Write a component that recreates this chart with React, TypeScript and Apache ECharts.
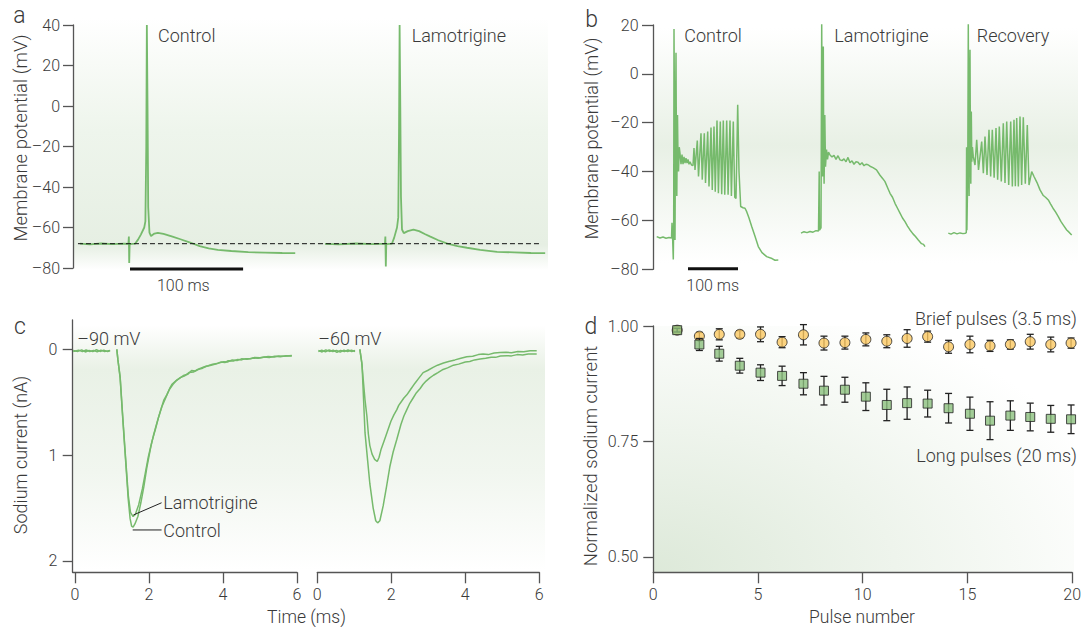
import React, { useEffect, useRef } from 'react';
import * as echarts from 'echarts';

// ---------------- Panel a: single action potentials (time ms, potential mV) ----------------
const aControl: [number, number][] = [
  [6.2, -68.0], [15, -68.3], [25, -67.9], [35, -68.2], [45, -68.0], [49.0, -68.1], [49.4, -64.5], [49.7, -77.5],
  [50.1, -68.2], [54.9, -68.0], [57.5, -66], [60, -63.5], [63, -60], [64, -57], [64.8, -20], [65.3, 40], [65.9, 0],
  [66.5, -50], [67.6, -62.5], [69, -64.2], [72, -63], [75, -62.6], [80, -63.2], [88, -64.5], [95, -65.8], [103, -67.3],
  [112, -69.2], [120, -70.3], [128, -71], [140, -71.6], [155, -72.2], [170, -72.4], [185, -72.6], [196.5, -72.7],
];
const aLamotrigine: [number, number][] = [
  [222.8, -68.1], [235, -68.3], [250, -67.9], [265, -68.2], [275.8, -68.0], [276.2, -64.5], [276.6, -79.3], [277, -68.2],
  [282, -68], [284, -65], [286.5, -60], [287.6, -55], [288.3, -10], [288.8, 40], [289.4, 0], [290, -45], [290.9, -61],
  [292.5, -62.8], [296, -61.8], [301, -61], [306, -61.8], [311, -63.2], [316, -64.5], [323, -66.3], [331, -68],
  [340, -69.2], [348.4, -70], [360, -71], [375, -72], [390, -72.3], [405, -72.6], [417.5, -72.7],
];
const aRestLevel: [number, number][] = [[4.4, -68], [413, -68]];
const aScaleBar: [number, number][] = [[50.4, -80.5], [150.4, -80.5]];

// ---------------- Panel b: repetitive firing (time ms, potential mV) ----------------
const bControl: [number, number][] = [
  [7.4, -66.6], [14, -67.2], [20, -66.8], [26, -67.3], [32, -67], [37, -67.2], [38, -61], [39.2, -67], [40.6, -76],
  [41.4, -60], [42, 18.4], [43, -20], [44, -68], [45, -20], [46, 8.6], [46.8, -30], [47.6, -50], [48.4, -30], [49, -16.8],
  [50, -35], [51, -40], [52.5, -30], [54, -32.5], [56, -37], [58, -33], [60, -37], [62, -34], [64, -36.5], [66, -34.5],
  [68, -36.5], [70, -35], [72, -37], [74, -36], [77, -37.3], [80, -37.5],
  [82, -30.4], [84, -39.3], [88.6, -27.3], [91, -42], [96, -24.3], [98.5, -43.3], [102.6, -24.3], [105, -44.7],
  [109.4, -23.6], [112, -46.1], [116, -22], [118.5, -47.5], [122, -21.6], [124.5, -48.2], [128, -19.1], [130.8, -48.9],
  [134.6, -19.5], [137.4, -49.3], [140.6, -19.1], [143.5, -49.5], [147.4, -19.1], [150.2, -49.5], [154, -19.1],
  [156.8, -50], [160.6, -19.5], [163.5, -50.5], [166, -51], [169.4, -12.7], [172, -40], [175.4, -54.3], [180, -54.8],
  [184, -55], [187.4, -56.4], [192, -59], [197.4, -62.5], [204, -66.5], [210.6, -70.7], [218, -73.2], [227.4, -74.8],
  [238, -75.6], [244, -76.3], [250.6, -76.2],
];
const bLamotrigine: [number, number][] = [
  [296, -65.2], [302, -64.6], [308, -65], [314, -64.5], [320, -64.8], [326, -64.2], [331, -64.3], [332.4, -40], [333, -64],
  [336, -63], [337.4, 20.8], [338.4, -20], [339.2, -42], [340, -10], [340.6, 11.2], [341.4, -30], [342.2, -45], [343, -30],
  [343.6, -16.8], [345, -38], [347, -31], [349, -35], [351, -32], [354, -33.2], [358, -34], [362, -33.4], [366, -35],
  [370, -33.5], [374, -35.2], [378, -35.5], [382, -34.8], [386, -36], [390, -34.2], [394, -36.4], [398, -35.6], [402, -37],
  [406, -36], [410, -36.2], [414, -37.2], [418, -36.4], [422, -37.6], [426, -37], [430, -37.2], [434, -37.8], [440, -38.4],
  [447, -39.3], [454, -41.5], [460, -43], [464, -44.1], [469, -46.5], [474, -48.9], [479, -50.5], [484, -53], [489, -55],
  [494, -57], [499, -59], [504, -60.5], [509, -62.3], [514, -63.9], [520, -65.5], [525, -66.6], [530.6, -68], [537, -69.5],
  [541, -69.8], [544, -70.7],
];
const bRecovery: [number, number][] = [
  [590.6, -65.2], [596, -65.6], [602, -65], [608, -65.5], [614, -65.1], [620, -65.4], [625, -65.2], [626.6, -65], [627.2, -30],
  [627.8, -64], [629.5, -40], [630.6, 20.8], [631.4, -30], [632.2, -50], [633.2, -10], [634, 9.9], [634.8, -30], [635.6, -45],
  [636.6, -15.4], [637.6, -36], [638.8, -30], [640.6, -33.9], [644, -37.3], [647.4, -27], [651, -39.3], [657.4, -27.7],
  [660.7, -40.7], [664, -25.7], [668, -41.4], [672, -22.9], [675.3, -42], [678.6, -22.9], [682.3, -42.5], [686, -22.2],
  [689.3, -43.3], [692.6, -21.6], [696.6, -44.1], [700.6, -20.2], [704, -44.7], [707.4, -19.5], [711.4, -45.5],
  [715.4, -19.5], [718.7, -46.1], [722, -18.8], [724.7, -46], [727.4, -18.1], [730.7, -46.1], [734, -17.5], [737.3, -45.5],
  [740.6, -17.8], [744.6, -45], [748.6, -20.9], [752, -45.5], [757.4, -40], [762, -42], [768, -44.5], [774, -47.5],
  [780.6, -49.8], [785, -50.5], [790.6, -51.6], [795, -53.2], [800, -55], [805, -56.5], [810.6, -58.4], [816, -60.5],
  [821, -62], [827.4, -63.9], [832, -64.8], [837.4, -66],
];
const bScaleBar: [number, number][] = [[70, -79.8], [170, -79.8]];

// ---------------- Panel c: sodium currents (time ms, current nA, downward) ----------------
const cTimeTicks = [0, 2, 4, 6];
const cCurrentTicks = [0, 1, 2];
const cLeftBaseControl: [number, number][] = [
  [-0.05, 0.012], [0.08, 0.02], [0.18, 0.005], [0.28, 0.025], [0.38, 0.01], [0.48, 0.022], [0.58, 0.004], [0.68, 0.02],
  [0.78, 0.008], [0.88, 0.022], [0.95, 0.015],
];
const cLeftBaseLamotrigine: [number, number][] = [
  [-0.05, 0.02], [0.1, 0.008], [0.2, 0.022], [0.3, 0.006], [0.4, 0.02], [0.5, 0.01], [0.6, 0.024], [0.7, 0.008],
  [0.8, 0.02], [0.95, 0.01],
];
const cLeftControl: [number, number][] = [
  [1.13, 0], [1.16, 0.1], [1.22, 0.27], [1.28, 0.6], [1.35, 0.96], [1.44, 1.42], [1.49, 1.6], [1.53, 1.67], [1.57, 1.68],
  [1.62, 1.65], [1.7, 1.58], [1.78, 1.45], [1.86, 1.3], [1.94, 1.12], [2.05, 0.92], [2.13, 0.8], [2.21, 0.7], [2.32, 0.57],
  [2.4, 0.48], [2.48, 0.43], [2.56, 0.37], [2.62, 0.33], [2.72, 0.3], [2.84, 0.27], [2.95, 0.245], [3.05, 0.235],
  [3.15, 0.2], [3.25, 0.205], [3.38, 0.18], [3.5, 0.165], [3.6, 0.155], [3.72, 0.14], [3.83, 0.135], [3.95, 0.12],
  [4.05, 0.125], [4.14, 0.108], [4.28, 0.11], [4.4, 0.095], [4.5, 0.1], [4.62, 0.088], [4.75, 0.09], [4.85, 0.078],
  [5.0, 0.08], [5.12, 0.072], [5.25, 0.078], [5.4, 0.066], [5.55, 0.07], [5.7, 0.06], [5.86, 0.064],
];
const cLeftLamotrigine: [number, number][] = [
  [1.13, 0], [1.16, 0.1], [1.22, 0.26], [1.28, 0.58], [1.35, 0.94], [1.44, 1.38], [1.5, 1.54], [1.57, 1.58], [1.63, 1.56],
  [1.72, 1.47], [1.82, 1.32], [1.9, 1.17], [1.98, 1.02], [2.08, 0.87], [2.17, 0.76], [2.26, 0.64], [2.35, 0.54],
  [2.45, 0.46], [2.55, 0.38], [2.65, 0.33], [2.75, 0.29], [2.86, 0.265], [2.97, 0.25], [3.08, 0.22], [3.2, 0.215],
  [3.32, 0.19], [3.45, 0.178], [3.55, 0.16], [3.68, 0.15], [3.8, 0.14], [3.9, 0.128], [4.02, 0.118], [4.12, 0.12],
  [4.25, 0.1], [4.38, 0.105], [4.5, 0.09], [4.65, 0.095], [4.8, 0.082], [4.95, 0.085], [5.1, 0.075], [5.22, 0.068],
  [5.38, 0.072], [5.5, 0.062], [5.65, 0.066], [5.86, 0.058],
];
const cLeaderLamotrigine: [number, number][] = [[1.58, 1.565], [2.34, 1.45]];
const cLeaderControl: [number, number][] = [[1.56, 1.707], [2.34, 1.707]];
const cRightBaseControl: [number, number][] = [
  [0.03, 0.01], [0.13, 0.025], [0.23, 0.005], [0.33, 0.02], [0.43, 0.008], [0.53, 0.028], [0.63, 0.01], [0.73, 0.022],
  [0.83, 0.006], [0.93, 0.02], [1.02, 0.012],
];
const cRightBaseLamotrigine: [number, number][] = [
  [0.03, 0.022], [0.12, 0.008], [0.22, 0.024], [0.32, 0.006], [0.42, 0.02], [0.52, 0.01], [0.62, 0.026], [0.72, 0.008],
  [0.82, 0.022], [0.92, 0.008], [1.02, 0.02],
];
const cRightControl: [number, number][] = [
  [1.15, 0], [1.21, 0.15], [1.29, 0.79], [1.36, 1.05], [1.42, 1.27], [1.51, 1.5], [1.58, 1.62], [1.63, 1.64], [1.69, 1.62],
  [1.78, 1.48], [1.87, 1.3], [1.96, 1.11], [2.05, 0.97], [2.15, 0.85], [2.26, 0.71], [2.34, 0.63], [2.42, 0.57],
  [2.5, 0.51], [2.59, 0.46], [2.68, 0.41], [2.78, 0.37], [2.86, 0.33], [2.94, 0.3], [3.04, 0.27], [3.14, 0.245],
  [3.26, 0.22], [3.4, 0.19], [3.52, 0.175], [3.68, 0.15], [3.82, 0.14], [4.0, 0.12], [4.12, 0.115], [4.25, 0.1],
  [4.4, 0.092], [4.55, 0.085], [4.7, 0.075], [4.82, 0.076], [4.95, 0.064], [5.12, 0.06], [5.25, 0.062], [5.4, 0.05],
  [5.55, 0.054], [5.7, 0.045], [5.93, 0.044],
];
const cRightLamotrigine: [number, number][] = [
  [1.15, 0], [1.2, 0.12], [1.24, 0.28], [1.29, 0.48], [1.34, 0.63], [1.38, 0.8], [1.42, 0.91], [1.48, 0.99], [1.55, 1.04],
  [1.62, 1.06], [1.67, 1.02], [1.72, 0.95], [1.8, 0.87], [1.88, 0.79], [1.95, 0.72], [1.99, 0.68], [2.07, 0.62],
  [2.15, 0.57], [2.2, 0.53], [2.26, 0.5], [2.34, 0.46], [2.42, 0.43], [2.52, 0.38], [2.64, 0.32], [2.75, 0.27],
  [2.86, 0.22], [2.98, 0.2], [3.13, 0.17], [3.25, 0.15], [3.41, 0.13], [3.55, 0.115], [3.72, 0.1], [3.88, 0.085],
  [4.04, 0.07], [4.2, 0.065], [4.35, 0.05], [4.48, 0.045], [4.62, 0.05], [4.78, 0.035], [4.94, 0.03], [5.1, 0.028],
  [5.25, 0.032], [5.42, 0.02], [5.58, 0.024], [5.75, 0.014], [5.93, 0.013],
];

// ---------------- Panel d: use-dependent block ----------------
const dPulse = [1.14, 2.2, 3.15, 4.13, 5.12, 6.15, 7.17, 8.15, 9.15, 10.15, 11.15, 12.12, 13.1, 14.1, 15.12, 16.08, 17.05, 18.0, 18.98, 19.95];
const dBrief = [0.991, 0.978, 0.982, 0.982, 0.982, 0.965, 0.981, 0.963, 0.964, 0.971, 0.967, 0.973, 0.977, 0.955, 0.960, 0.957, 0.960, 0.966, 0.960, 0.963];
const dBriefErr = [0.004, 0.008, 0.012, 0.008, 0.016, 0.012, 0.022, 0.015, 0.014, 0.014, 0.014, 0.019, 0.012, 0.014, 0.018, 0.012, 0.010, 0.016, 0.016, 0.011];
const dLong = [0.991, 0.960, 0.940, 0.914, 0.899, 0.892, 0.875, 0.860, 0.862, 0.847, 0.829, 0.833, 0.832, 0.822, 0.810, 0.795, 0.806, 0.803, 0.799, 0.798];
const dLongErr = [0.004, 0.013, 0.016, 0.016, 0.017, 0.021, 0.024, 0.031, 0.027, 0.030, 0.034, 0.035, 0.029, 0.032, 0.036, 0.041, 0.032, 0.030, 0.029, 0.031];
const dYTicks = [0.5, 0.75, 1.0];

const FONT = 'Roboto, "Liberation Sans", Arial, sans-serif';
const WEIGHT = 300;
const TEXT = '#3a3a3a';
const AXIS = '#555555';
const TRACE = '#76ba6c';

const minus = (v: number) => (v < 0 ? '\u2013' + Math.abs(v) : String(v));

function txt(text: string, x: number, y: number, opts: any = {}) {
  return {
    type: 'text',
    x,
    y,
    rotation: opts.rotation || 0,
    z: 20,
    silent: true,
    style: {
      text,
      fill: TEXT,
      fontFamily: FONT,
      fontWeight: WEIGHT,
      fontSize: opts.size || 17.5,
      align: opts.align || 'left',
      verticalAlign: 'middle',
    },
  };
}

const axisLine = { show: true, onZero: false, lineStyle: { color: AXIS, width: 1.3 } };
const axisTick = (len: number, extra: any = {}) => ({ show: true, length: len, lineStyle: { color: AXIS, width: 1.3 }, ...extra });
const axisLabel = (margin: number, extra: any = {}) => ({
  color: TEXT, fontFamily: FONT, fontWeight: WEIGHT, fontSize: 16, margin, ...extra,
});

function traceSeries(data: [number, number][], axis: number, width = 1.8, color = TRACE, extra: any = {}) {
  return {
    type: 'line',
    xAxisIndex: axis,
    yAxisIndex: axis,
    data,
    showSymbol: false,
    symbol: 'none',
    silent: true,
    lineStyle: { color, width },
    z: 3,
    ...extra,
  };
}

function errorSeries(pos: number[], val: number[], err: number[], z: number) {
  return {
    type: 'custom',
    xAxisIndex: 4,
    yAxisIndex: 4,
    silent: true,
    clip: false,
    z,
    data: pos.map((p, i) => [p, val[i] - err[i], val[i] + err[i]]),
    encode: { x: 0, y: [1, 2] },
    renderItem: (params: any, api: any) => {
      const x = api.value(0);
      const lo = api.coord([x, api.value(1)]);
      const hi = api.coord([x, api.value(2)]);
      const st = { stroke: '#222', lineWidth: 1.3 };
      return {
        type: 'group',
        children: [
          { type: 'line', shape: { x1: hi[0], y1: hi[1], x2: lo[0], y2: lo[1] }, style: st },
          { type: 'line', shape: { x1: hi[0] - 3.5, y1: hi[1], x2: hi[0] + 3.5, y2: hi[1] }, style: st },
          { type: 'line', shape: { x1: lo[0] - 3.5, y1: lo[1], x2: lo[0] + 3.5, y2: lo[1] }, style: st },
        ],
      };
    },
  };
}

export default function App() {
  const ref = useRef<HTMLDivElement>(null);
  useEffect(() => {
    if (!ref.current) return;
    const chart = echarts.init(ref.current, null, { renderer: 'svg' });
    const option: any = {
      animation: false,
      backgroundColor: '#ffffff',
      grid: [
        { left: 73, top: 25, width: 475, height: 243 },
        { left: 653, top: 25, width: 425, height: 244.3 },
        { left: 72.7, top: 320, width: 224.3, height: 252.3 },
        { left: 317.3, top: 320, width: 222, height: 252.3 },
        { left: 653.3, top: 326, width: 420.7, height: 246.3 },
      ],
      xAxis: [
        { type: 'value', gridIndex: 0, min: 0, max: 420, show: false },
        { type: 'value', gridIndex: 1, min: 0, max: 850, show: false },
        {
          type: 'value', gridIndex: 2, min: -0.062, max: 6, position: 'bottom',
          axisLine, splitLine: { show: false },
          axisTick: axisTick(11, { customValues: cTimeTicks }),
          axisLabel: axisLabel(14, { customValues: cTimeTicks }),
        },
        {
          type: 'value', gridIndex: 3, min: 0, max: 6, interval: 2, position: 'bottom',
          axisLine, splitLine: { show: false }, axisTick: axisTick(11), axisLabel: axisLabel(14),
        },
        {
          type: 'value', gridIndex: 4, min: 0, max: 20, interval: 5, position: 'bottom',
          axisLine, splitLine: { show: false }, axisTick: axisTick(11), axisLabel: axisLabel(14),
        },
      ],
      yAxis: [
        {
          type: 'value', gridIndex: 0, min: -80, max: 40, interval: 20,
          axisLine, splitLine: { show: false }, axisTick: axisTick(10),
          axisLabel: axisLabel(13, { formatter: minus }),
        },
        {
          type: 'value', gridIndex: 1, min: -80, max: 20, interval: 20,
          axisLine, splitLine: { show: false }, axisTick: axisTick(11),
          axisLabel: axisLabel(14.5, { formatter: minus }),
        },
        {
          type: 'value', gridIndex: 2, min: -0.277, max: 2.107, inverse: true,
          axisLine, splitLine: { show: false },
          axisTick: axisTick(10, { customValues: cCurrentTicks }),
          axisLabel: axisLabel(15.4, { customValues: cCurrentTicks }),
        },
        { type: 'value', gridIndex: 3, min: -0.277, max: 2.107, inverse: true, show: false },
        {
          type: 'value', gridIndex: 4, min: 0.4667, max: 1.0,
          axisLine, splitLine: { show: false },
          axisTick: axisTick(10, { customValues: dYTicks }),
          axisLabel: axisLabel(15, { customValues: dYTicks, formatter: (v: number) => v.toFixed(2) }),
        },
      ],
      graphic: [
        {
          type: 'rect', z: -5, silent: true,
          shape: { x: 73, y: 18, width: 475, height: 252 },
          style: {
            fill: new echarts.graphic.LinearGradient(0, 0, 0, 1, [
              { offset: 0, color: 'rgba(237,244,234,0)' },
              { offset: 0.45, color: '#eef5ec' },
              { offset: 0.9, color: '#e6efe3' },
              { offset: 1, color: 'rgba(230,239,227,0)' },
            ]),
          },
        },
        {
          type: 'rect', z: -5, silent: true,
          shape: { x: 653, y: 28, width: 425, height: 235 },
          style: {
            fill: new echarts.graphic.LinearGradient(0, 0, 0, 1, [
              { offset: 0, color: 'rgba(232,240,229,0)' },
              { offset: 0.5, color: '#e8f0e5' },
              { offset: 1, color: 'rgba(232,240,229,0)' },
            ]),
          },
        },
        {
          type: 'rect', z: -5, silent: true,
          shape: { x: 73, y: 325, width: 472, height: 245 },
          style: {
            fill: new echarts.graphic.LinearGradient(0, 0, 0, 1, [
              { offset: 0, color: 'rgba(233,241,230,0)' },
              { offset: 0.18, color: '#e9f1e6' },
              { offset: 0.6, color: '#f1f6ef' },
              { offset: 1, color: 'rgba(241,246,239,0)' },
            ]),
          },
        },
        {
          type: 'rect', z: -5, silent: true,
          shape: { x: 653.3, y: 326, width: 420.7, height: 246.3 },
          style: {
            fill: new echarts.graphic.RadialGradient(0, 1, 1.15, [
              { offset: 0, color: '#dde9d9' },
              { offset: 1, color: '#ffffff' },
            ]),
          },
        },
        // panel letters
        txt('a', 19.5, 15, { size: 23, align: 'center' }),
        txt('b', 591.5, 19, { size: 23, align: 'center' }),
        txt('c', 20, 326, { size: 23, align: 'center' }),
        txt('d', 591, 326, { size: 23, align: 'center' }),
        // axis titles
        txt('Membrane potential (mV)', 20.5, 138, { size: 18.5, align: 'center', rotation: Math.PI / 2 }),
        txt('Membrane potential (mV)', 591.5, 138.5, { size: 18, align: 'center', rotation: Math.PI / 2 }),
        txt('Sodium current (nA)', 20.5, 455, { size: 18, align: 'center', rotation: Math.PI / 2 }),
        txt('Normalized sodium current', 591, 456, { size: 18.5, align: 'center', rotation: Math.PI / 2 }),
        txt('Time (ms)', 306.5, 617, { size: 17.5, align: 'center' }),
        txt('Pulse number', 862, 617, { size: 17.5, align: 'center' }),
        // panel a labels
        txt('Control', 158, 35.5, { size: 18 }),
        txt('Lamotrigine', 411.7, 35.8, { size: 18 }),
        txt('100 ms', 183.3, 285, { size: 16, align: 'center' }),
        // panel b labels
        txt('Control', 684.3, 35.8, { size: 18 }),
        txt('Lamotrigine', 834.3, 35.8, { size: 18 }),
        txt('Recovery', 976.7, 35.8, { size: 18 }),
        txt('100 ms', 712.7, 285, { size: 16, align: 'center' }),
        // panel c labels
        txt('\u201390 mV', 77.3, 338, { size: 18 }),
        txt('\u201360 mV', 318.3, 338, { size: 18 }),
        txt('Lamotrigine', 163.3, 502.3, { size: 18 }),
        txt('Control', 163.3, 530, { size: 18 }),
        // panel d labels
        txt('Brief pulses (3.5 ms)', 1077, 318.3, { size: 18, align: 'right' }),
        txt('Long pulses (20 ms)', 1077, 455, { size: 18, align: 'right' }),
      ],
      series: [
        // a
        traceSeries(aControl, 0),
        traceSeries(aLamotrigine, 0),
        traceSeries(aRestLevel, 0, 1, '#111', { lineStyle: { color: '#111', width: 1, type: [5, 3] }, z: 4 }),
        traceSeries(aScaleBar, 0, 3, '#111', { clip: false }),
        // b
        traceSeries(bControl, 1, 1.5),
        traceSeries(bLamotrigine, 1, 1.5),
        traceSeries(bRecovery, 1, 1.5),
        traceSeries(bScaleBar, 1, 3, '#111', { clip: false }),
        // c left
        traceSeries(cLeftBaseControl, 2, 1.5),
        traceSeries(cLeftBaseLamotrigine, 2, 1.5),
        traceSeries(cLeftControl, 2, 1.5),
        traceSeries(cLeftLamotrigine, 2, 1.5),
        traceSeries(cLeaderLamotrigine, 2, 1, '#222'),
        traceSeries(cLeaderControl, 2, 1, '#222'),
        // c right
        traceSeries(cRightBaseControl, 3, 1.5),
        traceSeries(cRightBaseLamotrigine, 3, 1.5),
        traceSeries(cRightControl, 3, 1.5),
        traceSeries(cRightLamotrigine, 3, 1.5),
        // d
        errorSeries(dPulse, dBrief, dBriefErr, 3),
        {
          type: 'scatter', xAxisIndex: 4, yAxisIndex: 4, silent: true, clip: false, z: 4,
          symbol: 'circle', symbolSize: 10,
          itemStyle: { color: '#fbc862', borderColor: '#222', borderWidth: 1 },
          data: dPulse.map((p, i) => [p, dBrief[i]]),
        },
        errorSeries(dPulse, dLong, dLongErr, 5),
        {
          type: 'scatter', xAxisIndex: 4, yAxisIndex: 4, silent: true, clip: false, z: 6,
          symbol: 'rect', symbolSize: 9,
          itemStyle: { color: '#8cc07e', borderColor: '#222', borderWidth: 1 },
          data: dPulse.map((p, i) => [p, dLong[i]]),
        },
      ],
    };
    chart.setOption(option);
    return () => chart.dispose();
  }, []);
  return <div ref={ref} style={{ position: 'fixed', left: 0, top: 0, width: 1084, height: 627, background: '#fff' }} />;
}
